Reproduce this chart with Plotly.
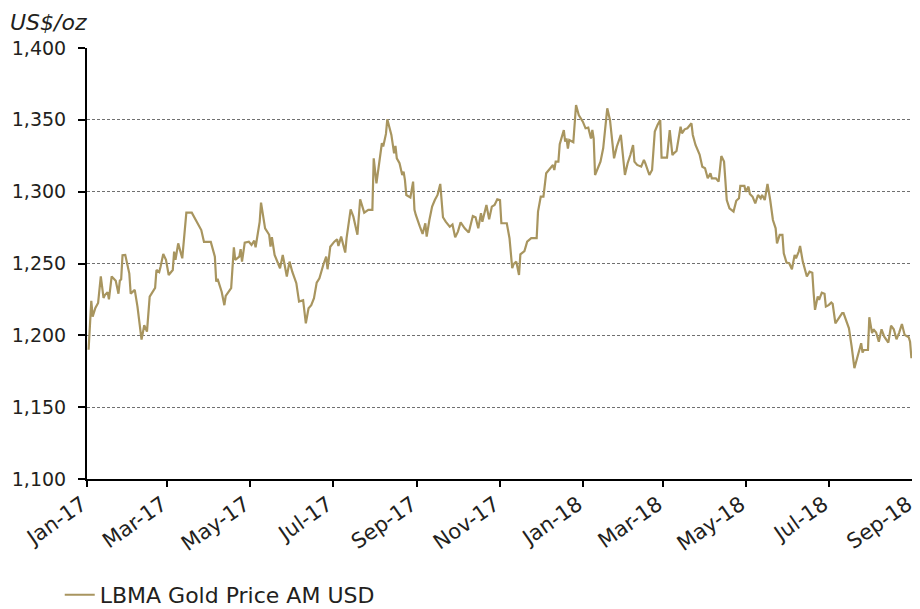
import pandas as pd
import plotly.graph_objects as go

days_since_2017 = [
    1, 3, 4, 6, 8, 10, 12, 13, 15, 16,
    18, 21, 23, 24, 25, 26, 28, 29, 31, 32,
    35, 37, 40, 42, 44, 46, 48, 50, 51, 53,
    54, 56, 58, 60, 63, 64, 65, 67, 70, 73,
    77, 80, 84, 86, 91, 94, 95, 96, 99, 101,
    102, 106, 108, 109, 112, 113, 114, 116, 119, 121,
    123, 124, 127, 128, 131, 134, 135, 136, 138, 142,
    144, 147, 149, 151, 154, 156, 159, 161, 163, 165,
    167, 169, 171, 174, 176, 177, 179, 182, 184, 185,
    187, 190, 191, 194, 196, 199, 201, 204, 207, 210,
    211, 213, 215, 217, 218, 220, 221, 224, 226, 227,
    228, 230, 232, 233, 234, 235, 238, 240, 241, 242,
    245, 247, 249, 250, 252, 254, 256, 258, 260, 262,
    264, 267, 269, 271, 273, 275, 278, 281, 284, 286,
    288, 290, 291, 294, 296, 298, 300, 302,
    304, 305, 309, 311, 313, 314, 316, 318, 319, 322,
    324, 327, 331, 332, 334, 336, 338, 340, 343, 344,
    345, 347, 348, 351, 352, 353, 354, 355, 358, 360,
    362, 365, 367, 369, 370, 371, 372, 373, 374, 376,
    378, 380, 383, 385, 388, 390, 393, 396, 398, 400,
    402, 403, 405, 408, 410, 411, 414, 416, 418, 420,
    422, 423, 427, 429, 431, 432, 434, 437, 438, 440,
    442, 445, 446, 448, 450, 451, 453, 455, 457, 459,
    460, 463, 465, 467, 469, 471, 473, 476, 478, 480,
    481, 484, 485, 487, 488, 490, 492, 494, 496, 497,
    499, 501, 503, 505, 507, 508, 510, 512, 513, 515,
    517, 519, 521, 522, 524, 525, 527, 530, 532, 534,
    535, 536, 538, 539, 541, 543, 544, 546, 548, 549,
    551, 554, 556, 557, 559, 561, 563, 565, 567, 570,
    571, 572, 575, 576, 578, 579, 581, 583, 585, 587,
    590, 592, 594, 596, 598, 600, 602, 605, 606, 607,
]

# LBMA Gold Price AM, US$/oz
gold_price_usd = [
    1190, 1224, 1213, 1219, 1222.5, 1241, 1226, 1228, 1230, 1225,
    1241, 1238, 1229, 1238, 1239, 1255.7, 1256, 1251, 1243, 1229,
    1231.6, 1220, 1197, 1207, 1202.6, 1227, 1230.4, 1233, 1245.5, 1244,
    1247.8, 1256.6, 1252.5, 1242, 1245.5, 1258.3, 1252.5, 1264, 1253.6, 1285.4,
    1285.4, 1280.3, 1273.3, 1265, 1265, 1254.8, 1237.4, 1239.3, 1230.4, 1221,
    1227.4, 1232.8, 1261.3, 1252.5, 1254.8, 1260, 1251.3, 1264.5, 1265.2, 1263,
    1265.9, 1261.3, 1279, 1292.4, 1274.5, 1270, 1261.7, 1268.3, 1256, 1246.7,
    1256, 1240.9, 1251.3, 1244.3, 1236.3, 1223.5, 1224.5, 1208.4, 1218.9, 1221,
    1225.8, 1236.7, 1239.7, 1249.5, 1254.8, 1246, 1261.7, 1265.2, 1266.9, 1262.2,
    1268.7, 1257.6, 1267.6, 1287.7, 1282.6, 1270, 1294.7, 1285.4, 1287.3, 1287.3,
    1323.2, 1305.8, 1319.8, 1333.7, 1331.5, 1340.2, 1350.4, 1339.5, 1326.7, 1331.8,
    1323.2, 1319.8, 1311.6, 1314, 1308.1, 1297.7, 1296, 1307, 1287.3, 1283.8,
    1275.6, 1270.6, 1278, 1268.7, 1280.3, 1289.6, 1294.2, 1297.7, 1305.4, 1282.2,
    1279.1, 1275.6, 1277.2, 1268.3, 1272.2, 1278.6, 1274.5, 1271.5, 1283.1, 1282.2,
    1274.5, 1285, 1279, 1290.7, 1280.8, 1289.6, 1290.7, 1294.7,
    1294.2, 1278, 1278, 1267.6, 1246.7, 1249.6, 1251.3, 1242, 1256.4, 1258.7,
    1265.2, 1267.6, 1267.6, 1286.1, 1296.5, 1296.5, 1312.8, 1315.1, 1318.6, 1315.1,
    1320.9, 1320.9, 1333, 1342.9, 1334.8, 1337, 1330, 1336, 1334.4, 1360.3,
    1353.4, 1348.7, 1344.1, 1344.6, 1340.6, 1337, 1342.9, 1337, 1311.6, 1316.3,
    1320.9, 1330.2, 1358, 1349.9, 1323.2, 1331.3, 1339.5, 1311.6, 1319.8, 1325.5,
    1332.5, 1320.9, 1318.6, 1317.4, 1322.1, 1319.8, 1311.6, 1315.1, 1341.8, 1346.4,
    1349.9, 1323.7, 1323.7, 1342.9, 1325.5, 1326.7, 1328.3, 1345.2, 1340.6, 1343.4,
    1344.1, 1347.6, 1339.5, 1332.5, 1327.8, 1325.8, 1317.4, 1316.3, 1309.3, 1312.8,
    1309.3, 1309.3, 1307, 1324.8, 1320.9, 1294.2, 1288.4, 1286.1, 1293.7, 1295.4,
    1304, 1304, 1300, 1303.5, 1298.4, 1296.5, 1291.9, 1297.7, 1295.4, 1297.7,
    1294.2, 1305.4, 1294.2, 1280.3, 1274.5, 1264, 1269.9, 1269.9, 1257.1, 1250.6,
    1250.2, 1246, 1256, 1253.6, 1258.3, 1262.2, 1251.3, 1240.9, 1244.3, 1243.6,
    1229.3, 1217.7, 1227, 1224.7, 1229.7, 1229, 1220, 1221, 1222.8, 1222,
    1208.4, 1212.6, 1215.4, 1215.4, 1209.5, 1204.9, 1192.1, 1177.1, 1184.1, 1194.5,
    1188, 1189.8, 1189.8, 1212.6, 1201.5, 1204.2, 1202, 1195.6, 1204.2, 1199.1,
    1194.9, 1206.7, 1204.2, 1197.3, 1201.9, 1207.9, 1200.3, 1198.7, 1195.6, 1184.1,
]

assert len(days_since_2017) == len(gold_price_usd)

x_tick_dates = ["2017-01-01", "2017-03-01", "2017-05-01", "2017-07-01", "2017-09-01",
                "2017-11-01", "2018-01-01", "2018-03-01", "2018-05-01", "2018-07-01",
                "2018-09-01"]
x_tick_labels = ["Jan-17", "Mar-17", "May-17", "Jul-17", "Sep-17", "Nov-17",
                 "Jan-18", "Mar-18", "May-18", "Jul-18", "Sep-18"]
y_tick_values = [1100, 1150, 1200, 1250, 1300, 1350, 1400]
y_tick_labels = ["1,100", "1,150", "1,200", "1,250", "1,300", "1,350", "1,400"]

dates = pd.Timestamp("2017-01-01") + pd.to_timedelta(days_since_2017, unit="D")

FONT = "DejaVu Sans, Liberation Sans, Arial, sans-serif"
TXT = "#231f20"
GOLD = "#A8955F"

fig = go.Figure()
fig.add_trace(go.Scatter(
    x=dates, y=gold_price_usd, mode="lines",
    name="LBMA Gold Price AM USD",
    line=dict(color=GOLD, width=2.2),
))

# The page body adds an 8px offset, so the figure is 8px smaller on each side
fig.update_layout(
    width=912, height=601,
    margin=dict(l=79, r=7, t=40, b=130, autoexpand=False),
    paper_bgcolor="white", plot_bgcolor="white",
    font=dict(family=FONT, size=19, color=TXT),
    showlegend=True,
    legend=dict(orientation="h", x=-0.033, xanchor="left", y=-0.269, yanchor="middle",
                font=dict(family=FONT, size=22, color=TXT),
                bgcolor="rgba(0,0,0,0)", borderwidth=0),
    xaxis=dict(
        type="date", range=["2016-12-31 20:00", "2018-09-01 04:00"],
        tickmode="array", tickvals=x_tick_dates, ticktext=x_tick_labels,
        tickangle=-35, tickfont=dict(family=FONT, size=21, color=TXT),
        ticklabeloverflow="allow", ticklabelstandoff=-3, ticklabelshift=-5,
        showline=True, linecolor="black", linewidth=2,
        ticks="outside", ticklen=6, tickwidth=1.5, tickcolor="black",
        showgrid=False, zeroline=False, automargin=False,
    ),
    yaxis=dict(
        range=[1100, 1400],
        tickmode="array", tickvals=y_tick_values, ticktext=y_tick_labels,
        tickfont=dict(family=FONT, size=19, color=TXT),
        showline=True, linecolor="black", linewidth=2,
        ticks="outside", ticklen=7, tickwidth=1.5, tickcolor="black",
        showgrid=True, gridcolor="#707070", gridwidth=1, griddash="3px,2px",
        zeroline=False, ticklabelstandoff=8, automargin=False,
    ),
    annotations=[dict(
        text="<i>US$/oz</i>", xref="paper", yref="paper",
        x=-0.0955, y=1.06, xanchor="left", yanchor="middle",
        showarrow=False, font=dict(family=FONT, size=22, color=TXT),
    )],
)

fig.write_html("out.html")
